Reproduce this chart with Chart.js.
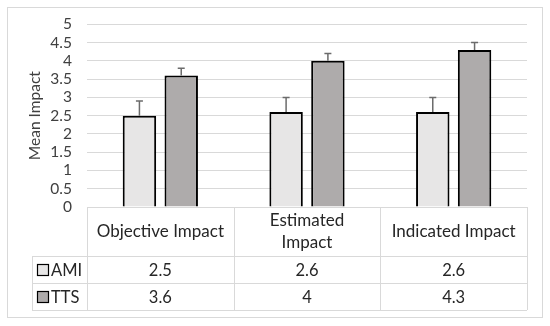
<!DOCTYPE html>
<html><head><meta charset="utf-8">
<script src="https://cdn.jsdelivr.net/npm/chart.js@4"></script>
<style>html,body{margin:0;padding:0;background:#fff}</style>
</head><body>
<canvas id="c" width="550" height="326"></canvas>
<script>
// ---- data ----
const categories = ["Objective Impact", ["Estimated", "Impact"], "Indicated Impact"];
const seriesNames = ["AMI", "TTS"];
const amiValues = [2.5, 2.6, 2.6];
const ttsValues = [3.6, 4, 4.3];
const amiErrors = [0.4, 0.4, 0.4];
const ttsErrors = [0.2, 0.2, 0.2];
const yMin = 0, yMax = 5, yStep = 0.5;
const yTitle = "Mean Impact";

// ---- styles ----
const FONT = 'Lato, "Open Sans", sans-serif';
const amiColor = '#e7e6e6';
const ttsColor = '#aeabab';
const gridColor = '#d9d9d9';
const textColor = '#404040';
const tableText = '#262626';
const errorValues = [amiErrors, ttsErrors];

const crisp = v => Math.round(v) + 0.5;

const borderPlugin = {
  id: 'outerBorder',
  beforeDraw(chart) {
    const ctx = chart.ctx;
    ctx.save();
    ctx.fillStyle = '#fff';
    ctx.fillRect(0, 0, chart.width, chart.height);
    ctx.strokeStyle = gridColor;
    ctx.lineWidth = 1;
    ctx.strokeRect(7.5, 7.5, chart.width - 15, chart.height - 16);
    ctx.restore();
  }
};

const errorBarPlugin = {
  id: 'errorBars',
  afterDatasetsDraw(chart) {
    const ctx = chart.ctx;
    const y = chart.scales.y;
    ctx.save();
    ctx.strokeStyle = '#6b6b6b';
    ctx.lineWidth = 1.5;
    chart.data.datasets.forEach((ds, d) => {
      const meta = chart.getDatasetMeta(d);
      meta.data.forEach((el, i) => {
        const top = y.getPixelForValue(ds.data[i] + errorValues[d][i]);
        ctx.beginPath();
        ctx.moveTo(el.x, el.y);
        ctx.lineTo(el.x, top);
        ctx.moveTo(el.x - 3.5, top);
        ctx.lineTo(el.x + 3.5, top);
        ctx.stroke();
      });
    });
    ctx.restore();
  }
};

const tablePlugin = {
  id: 'dataTable',
  afterDraw(chart) {
    const ctx = chart.ctx;
    const xs = chart.scales.x;
    const area = chart.chartArea;
    const n = categories.length;
    const colW = (area.right - area.left) / n;
    const top = area.bottom;
    const hdrBottom = top + 49;
    const rowH = 27;
    const rowsBottom = hdrBottom + rowH * seriesNames.length;
    const legLeft = 32;
    ctx.save();
    ctx.strokeStyle = gridColor;
    ctx.lineWidth = 1;
    ctx.beginPath();
    ctx.moveTo(area.left, crisp(top)); ctx.lineTo(area.right, crisp(top));
    for (let r = 0; r <= seriesNames.length; r++) {
      const yy = crisp(hdrBottom + r * rowH);
      ctx.moveTo(legLeft, yy); ctx.lineTo(area.right, yy);
    }
    for (let c = 0; c <= n; c++) {
      const xx = crisp(area.left + c * colW);
      ctx.moveTo(xx, top); ctx.lineTo(xx, rowsBottom);
    }
    ctx.moveTo(crisp(legLeft), hdrBottom); ctx.lineTo(crisp(legLeft), rowsBottom);
    ctx.stroke();

    ctx.fillStyle = tableText;
    ctx.textAlign = 'center';
    ctx.textBaseline = 'middle';
    ctx.font = '17px ' + FONT;
    categories.forEach((lab, i) => {
      const cx = xs.getPixelForValue(i);
      const lines = Array.isArray(lab) ? lab : [lab];
      const lh = 22;
      const cy = (top + hdrBottom) / 2;
      lines.forEach((ln, k) => {
        ctx.fillText(ln, cx, cy + (k - (lines.length - 1) / 2) * lh);
      });
    });
    const seriesData = [amiValues, ttsValues];
    const seriesColors = [amiColor, ttsColor];
    seriesNames.forEach((name, r) => {
      const cy = hdrBottom + r * rowH + rowH / 2;
      ctx.font = '16.5px ' + FONT;
      ctx.textAlign = 'center';
      ctx.fillStyle = tableText;
      seriesData[r].forEach((v, i) => {
        ctx.fillText(String(v), xs.getPixelForValue(i), cy + 1);
      });
      ctx.fillStyle = seriesColors[r];
      ctx.fillRect(37.5, cy - 5, 11, 11);
      ctx.strokeStyle = '#000';
      ctx.lineWidth = 1.2;
      ctx.strokeRect(37.5, cy - 5, 11, 11);
      ctx.fillStyle = tableText;
      ctx.textAlign = 'left';
      ctx.fillText(name, 51, cy + 1);
    });
    ctx.restore();
  }
};

new Chart(document.getElementById('c'), {
  type: 'bar',
  data: {
    labels: categories,
    datasets: [
      { label: seriesNames[0], data: amiValues, backgroundColor: amiColor, borderColor: '#000', borderWidth: 2, borderSkipped: 'start' },
      { label: seriesNames[1], data: ttsValues, backgroundColor: ttsColor, borderColor: '#000', borderWidth: 2, borderSkipped: 'start' }
    ]
  },
  options: {
    responsive: false,
    animation: false,
    devicePixelRatio: 1,
    categoryPercentage: 0.57,
    barPercentage: 0.8,
    layout: { padding: { top: 23, right: 23, bottom: 119, left: 0 } },
    plugins: { legend: { display: false }, tooltip: { enabled: false } },
    scales: {
      x: { display: false },
      y: {
        min: yMin, max: yMax,
        afterFit(scale) { scale.width = 87; },
        border: { display: false },
        grid: { color: gridColor, drawTicks: false, lineWidth: 1 },
        ticks: {
          stepSize: yStep, autoSkip: false, padding: 15, color: textColor,
          font: { family: FONT, size: 15.5 },
          callback: v => String(v)
        },
        title: { display: true, text: yTitle, color: textColor, font: { family: FONT, size: 15.5 }, padding: { top: 26 } }
      }
    }
  },
  plugins: [borderPlugin, errorBarPlugin, tablePlugin]
});
</script>
</body></html>
